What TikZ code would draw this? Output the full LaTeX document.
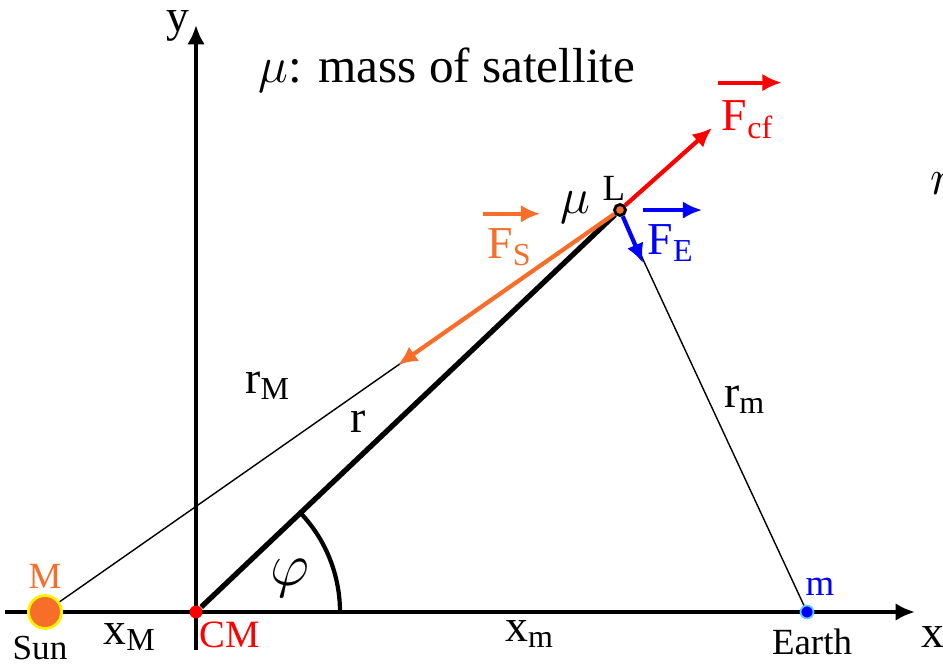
\documentclass[tikz,border=0pt]{standalone}
\usepackage{fontspec}
\setmainfont{Liberation Serif}
\usetikzlibrary{arrows.meta}

\definecolor{sunorange}{RGB}{247,110,42}
\definecolor{forcered}{RGB}{255,0,0}
\definecolor{earthblue}{RGB}{0,0,255}

\begin{document}
\begin{tikzpicture}[>={Latex[length=5.5pt,width=5pt]},
    font=\fontsize{13}{15}\selectfont,
    axis/.style={line width=1.4pt},
    force/.style={line width=1.2pt, ->},
    vecarrow/.style={line width=1.1pt, ->, shorten >=-1pt},
    thinline/.style={line width=0.4pt},
    small/.style={font=\fontsize{10.5}{12}\selectfont}]

    \useasboundingbox (0,0) rectangle (9.43,6.64);

    % ==========================================
    % 1. PUNTI E ASSI
    % ==========================================
    \coordinate (xstart) at (0.05,0.52);
    \coordinate (xend)   at (9.15,0.52);
    \coordinate (ystart) at (1.96,0.14);
    \coordinate (yend)   at (1.96,6.39);

    \draw[axis,->] (xstart) -- (xend);
    \draw[axis,->] (ystart) -- (yend);
    \node (ylab) at (1.78,6.38) {y};
    \node (xlab) at (9.33,0.27) {x};

    % Sole, Terra, centro di massa, punto L
    \node[circle, fill=sunorange, draw=yellow, line width=0.8pt,
          minimum size=0.33cm, inner sep=0pt] (sun) at (0.45,0.52) {};
    \node[circle, fill=earthblue, draw=cyan!60, line width=0.5pt,
          minimum size=0.13cm, inner sep=0pt] (earth) at (8.07,0.52) {};
    \node[circle, fill=forcered, minimum size=0.13cm, inner sep=0pt] (cm) at (1.96,0.52) {};
    \node[circle, fill=sunorange, draw=black, line width=0.8pt,
          minimum size=0.11cm, inner sep=0pt] (lpt) at (6.20,4.54) {};

    % ==========================================
    % 2. DISTANZE
    % ==========================================
    \draw[thinline] (sun) -- (lpt);
    \draw[thinline] (lpt) -- (earth);
    \draw[line width=1.5pt] (cm) -- (lpt);

    % Angolo phi
    \draw[line width=1.2pt] (cm) ++(1.44,0) arc[start angle=0, end angle=43.5, radius=1.44];
    \node (philab) at (2.90,0.86) {\fontsize{16}{18}\selectfont$\varphi$};

    \node (rmlab)  at (2.68,2.78) {r\textsubscript{M}};
    \node (rlab)   at (3.58,2.42) {r};
    \node (relab)  at (7.45,2.64) {r\textsubscript{m}};

    % ==========================================
    % 3. FORZE SUL SATELLITE
    % ==========================================
    \coordinate (fsend)  at (3.98,2.99);
    \coordinate (fcfend) at (7.12,5.36);
    \coordinate (feend)  at (6.43,4.01);

    \draw[force, sunorange]  (lpt) -- (fsend);
    \draw[force, forcered]   (lpt) -- (fcfend);
    \draw[force, earthblue]  (lpt) -- (feend);

    \node[text=sunorange, inner sep=1pt] (fslab) at (5.10,4.17) {F\textsubscript{S}};
    \draw[vecarrow, sunorange] ([yshift=3pt]fslab.north west) -- ([yshift=3pt]fslab.north east);

    \node[text=forcered, inner sep=1pt] (fcflab) at (7.48,5.44) {F\textsubscript{cf}};
    \draw[vecarrow, forcered] ([yshift=4pt]fcflab.north west) -- ([yshift=4pt]fcflab.north east);

    \node[text=earthblue, inner sep=1pt] (felab) at (6.71,4.21) {F\textsubscript{E}};
    \draw[vecarrow, earthblue] ([yshift=3pt]felab.north west) -- ([yshift=3pt]felab.north east);

    \node (mulab) at (5.75,4.56) {\fontsize{15}{17}\selectfont$\mu$};
    \node[small] (llab) at (6.14,4.76) {L};

    % ==========================================
    % 4. ETICHETTE SULL'ASSE X
    % ==========================================
    \node[small, text=sunorange] (mlab) at (0.45,0.88) {M};
    \node[font=\fontsize{10}{12}\selectfont] (sunlab) at (0.40,0.16) {Sun};
    \node (xmlab) at (1.30,0.27) {x\textsubscript{M}};
    \node[font=\fontsize{11}{13}\selectfont, text=forcered] (cmlab) at (2.30,0.29) {CM};
    \node (xelab) at (5.30,0.30) {x\textsubscript{m}};
    \node[small, text=earthblue] (melab) at (8.20,0.77) {m};
    \node[small] (earthlab) at (8.12,0.22) {Earth};

    % Titolo e testo tagliato a destra
    \node[anchor=west, font=\fontsize{14}{17}\selectfont] (title) at (2.46,5.94) {$\mu$: mass of satellite};
    \node[anchor=west, font=\fontsize{15}{17}\selectfont] (rcut) at (9.18,4.80) {$r$};

\end{tikzpicture}
\end{document}
